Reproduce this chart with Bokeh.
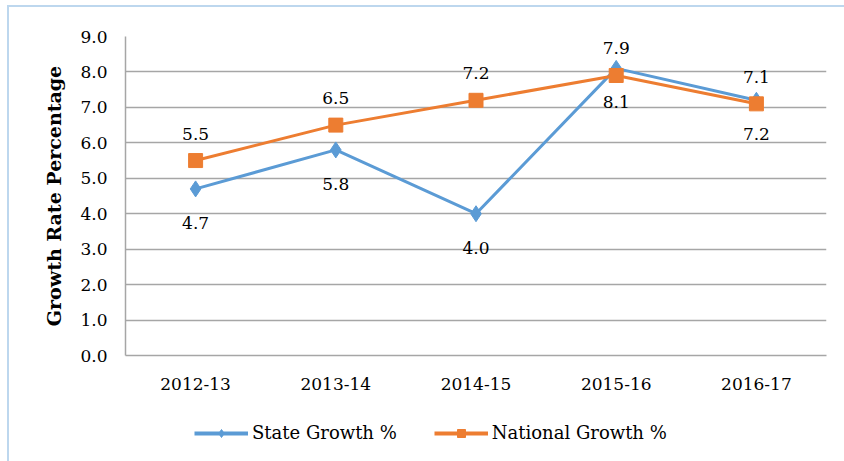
from bokeh.plotting import figure
from bokeh.layouts import column
from bokeh.models import (ColumnDataSource, Legend, LegendItem, FixedTicker,
                          Range1d, CustomJSTickFormatter)
from bokeh.core.properties import value
from bokeh.embed import file_html
from bokeh.resources import INLINE

years = ["2012-13", "2013-14", "2014-15", "2015-16", "2016-17"]
state = [4.7, 5.8, 4.0, 8.1, 7.2]
national = [5.5, 6.5, 7.2, 7.9, 7.1]
y_ticks = [0, 1, 2, 3, 4, 5, 6, 7, 8, 9]
series_names = ["State Growth %", "National Growth %"]

FONT = "DejaVu Serif"
BLUE = "#5B9BD5"
ORANGE = "#ED7D31"

src = ColumnDataSource(dict(
    x=years, state=state, national=national,
    state_lbl=[f"{v:.1f}" for v in state],
    nat_lbl=[f"{v:.1f}" for v in national],
))

p = figure(x_range=years, y_range=Range1d(0, 9), width=835, height=398,
           output_backend="svg", toolbar_location=None,
           min_border_left=116, min_border_right=18, min_border_top=29, min_border_bottom=50)
p.outline_line_color = None
p.xgrid.grid_line_color = None
p.ygrid.grid_line_color = "#A6A6A6"
p.ygrid.grid_line_width = 1.5

p.yaxis.ticker = FixedTicker(ticks=y_ticks)
p.yaxis.formatter = CustomJSTickFormatter(code="return tick.toFixed(1);")
for ax in (p.xaxis, p.yaxis):
    ax.axis_line_color = "#A6A6A6"
    ax.axis_line_width = 1.5
    ax.major_tick_line_color = None
    ax.minor_tick_line_color = None
    ax.major_label_text_font = FONT
    ax.major_label_text_font_size = "17px"
    ax.major_label_text_color = "#000000"
p.xaxis.major_label_standoff = 16
p.yaxis.major_label_standoff = 12
p.yaxis.axis_label = "Growth Rate Percentage"
p.yaxis.axis_label_text_font = FONT
p.yaxis.axis_label_text_font_size = "19px"
p.yaxis.axis_label_text_font_style = "bold"
p.yaxis.axis_label_text_color = "#000000"
p.yaxis.axis_label_standoff = 12

p.line("x", "state", source=src, line_color=BLUE, line_width=3)
p.scatter("x", "state", source=src, marker="diamond", size=16, color=BLUE)
p.line("x", "national", source=src, line_color=ORANGE, line_width=3)
p.scatter("x", "national", source=src, marker="square", size=14, color=ORANGE)

p.text("x", "state", text="state_lbl", source=src, text_font=value(FONT),
       text_font_size="17px", text_align="center", text_baseline="middle",
       y_offset=34, text_color="#000000")
p.text("x", "national", text="nat_lbl", source=src, text_font=value(FONT),
       text_font_size="17px", text_align="center", text_baseline="middle",
       y_offset=-27, text_color="#000000")

# Legend strip below the chart (series drawn out of view, only legend shows)
lg = figure(width=835, height=56, x_range=years, y_range=Range1d(100, 101),
            x_axis_type=None, y_axis_type=None, output_backend="svg",
            toolbar_location=None, min_border_left=0, min_border_right=0,
            min_border_top=0, min_border_bottom=0)
lg.outline_line_color = None
lg.grid.grid_line_color = None
l1 = lg.line("x", "state", source=src, line_color=BLUE, line_width=4)
m1 = lg.scatter("x", "state", source=src, marker="diamond", size=13, color=BLUE)
l2 = lg.line("x", "national", source=src, line_color=ORANGE, line_width=4)
m2 = lg.scatter("x", "national", source=src, marker="square", size=11, color=ORANGE)

legend = Legend(items=[
    LegendItem(label=series_names[0], renderers=[l1, m1]),
    LegendItem(label=series_names[1], renderers=[l2, m2]),
], orientation="horizontal", location=(69, 18))
legend.label_text_font = FONT
legend.label_text_font_size = "18px"
legend.label_text_color = "#000000"
legend.border_line_color = None
legend.background_fill_alpha = 0
legend.glyph_width = 54
legend.spacing = 37
legend.label_standoff = 4
lg.add_layout(legend, "center")

layout = column(p, lg, spacing=0)
layout.styles = {"margin-left": "7px", "margin-top": "5px",
                 "border-left": "2px solid #BDD7EE", "border-top": "2px solid #BDD7EE"}

open("out.html", "w").write(file_html(layout, INLINE))
